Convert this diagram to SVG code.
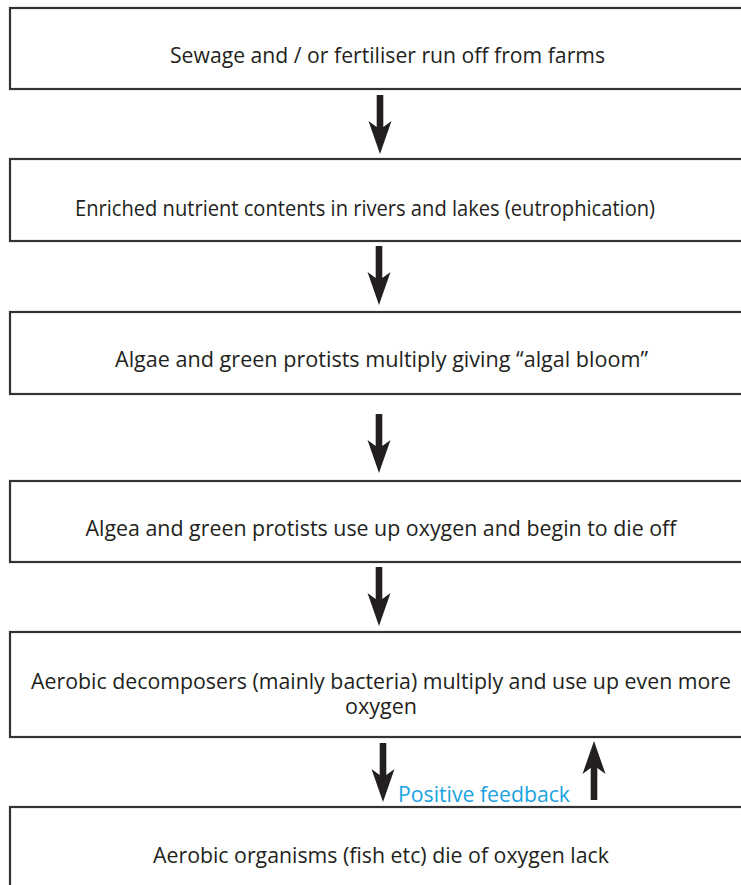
<svg xmlns="http://www.w3.org/2000/svg" xmlns:xlink="http://www.w3.org/1999/xlink" width="741" height="885" viewBox="0 0 741 885">
<style>
.box{fill:#ffffff;stroke:#333333;stroke-width:2.2}
.lbl{font-family:"Open Sans","Noto Sans","Liberation Sans",sans-serif;font-size:21px;fill:#231f20}
.pf{font-family:"Open Sans","Noto Sans","Liberation Sans",sans-serif;font-size:21px;fill:#1aa3e0}
.arr{fill:#231f20}
</style>
<defs>
<path id="arrowDown" d="M-3.3,-59 L3.3,-59 L3.3,-27 L11.5,-33 L0,0 L-11.5,-33 L-3.3,-27 Z"/>
</defs>
<rect width="741" height="885" fill="#ffffff"/>
<g id="node1">
<rect class="box" x="10" y="8" width="760" height="81"/>
<text class="lbl" x="170" y="63" textLength="435" lengthAdjust="spacingAndGlyphs">Sewage and / or fertiliser run off from farms</text>
</g>
<g id="node2">
<rect class="box" x="10" y="159" width="760" height="82"/>
<text class="lbl" x="75" y="216" textLength="580" lengthAdjust="spacingAndGlyphs">Enriched nutrient contents in rivers and lakes (eutrophication)</text>
</g>
<g id="node3">
<rect class="box" x="10" y="312" width="760" height="82"/>
<text class="lbl" x="115" y="367" textLength="533" lengthAdjust="spacingAndGlyphs">Algae and green protists multiply giving “algal bloom”</text>
</g>
<g id="node4">
<rect class="box" x="10" y="481" width="760" height="81"/>
<text class="lbl" x="85.5" y="536" textLength="591" lengthAdjust="spacingAndGlyphs">Algea and green protists use up oxygen and begin to die off</text>
</g>
<g id="node5">
<rect class="box" x="10" y="632" width="760" height="105"/>
<text class="lbl" x="31" y="689" textLength="700" lengthAdjust="spacingAndGlyphs">Aerobic decomposers (mainly bacteria) multiply and use up even more</text>
<text class="lbl" x="345" y="714" textLength="72" lengthAdjust="spacingAndGlyphs">oxygen</text>
</g>
<g id="node6">
<rect class="box" x="10" y="807" width="760" height="100"/>
<text class="lbl" x="153" y="863" textLength="456" lengthAdjust="spacingAndGlyphs">Aerobic organisms (fish etc) die of oxygen lack</text>
</g>
<g id="connectors">
<use class="arr" xlink:href="#arrowDown" href="#arrowDown" transform="translate(380,154)"/>
<use class="arr" xlink:href="#arrowDown" href="#arrowDown" transform="translate(379,305)"/>
<use class="arr" xlink:href="#arrowDown" href="#arrowDown" transform="translate(379,473)"/>
<use class="arr" xlink:href="#arrowDown" href="#arrowDown" transform="translate(379,626)"/>
<use class="arr" xlink:href="#arrowDown" href="#arrowDown" transform="translate(383,802)"/>
<use class="arr" xlink:href="#arrowDown" href="#arrowDown" transform="translate(594,741) rotate(180)"/>
<text class="pf" x="398" y="802" textLength="172" lengthAdjust="spacingAndGlyphs">Positive feedback</text>
</g>
</svg>
